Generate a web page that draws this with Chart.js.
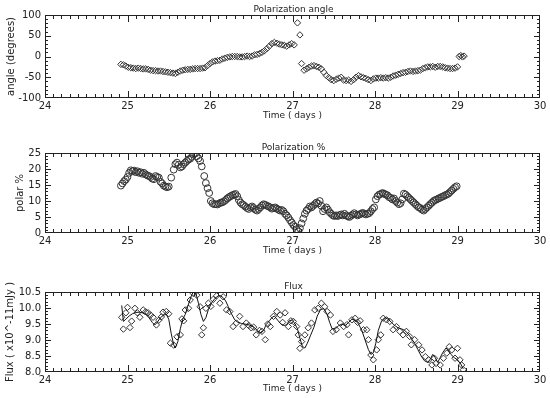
<!DOCTYPE html>
<html>
<head>
<meta charset="utf-8">
<script src="https://cdn.jsdelivr.net/npm/chart.js@4.4.1/dist/chart.umd.min.js"></script>
<style>
  body { margin: 0; background: #fff; }
  canvas { position: absolute; left: 0; }
</style>
</head>
<body>
<canvas id="angleChart" width="550" height="130" style="top:0px"></canvas>
<canvas id="polarChart" width="550" height="130" style="top:130px"></canvas>
<canvas id="fluxChart" width="550" height="138" style="top:260px"></canvas>
<script>
// Polarization angle (degrees) vs time (days)
const angleTime = [
  24.92, 24.95, 24.98, 25.01, 25.04, 25.07, 25.10, 25.13, 25.16, 25.19,
  25.22, 25.25, 25.28, 25.31, 25.34, 25.37, 25.40, 25.43, 25.46, 25.49,
  25.52, 25.55, 25.58, 25.61, 25.64, 25.67, 25.70, 25.73, 25.76, 25.79,
  25.82, 25.85, 25.88, 25.91, 25.94, 25.97, 26.00, 26.03, 26.06, 26.09,
  26.12, 26.15, 26.18, 26.21, 26.24, 26.27, 26.30, 26.33, 26.36, 26.39,
  26.42, 26.45, 26.48, 26.51, 26.54, 26.57, 26.60, 26.63, 26.66, 26.69,
  26.72, 26.75, 26.78, 26.81, 26.84, 26.87, 26.90, 26.93, 26.96, 26.99,
  27.02,
  27.06, 27.09,
  27.11, 27.14, 27.17, 27.20, 27.23, 27.26, 27.29, 27.32, 27.35, 27.38,
  27.41, 27.44, 27.47, 27.50, 27.53, 27.56, 27.59, 27.62, 27.65, 27.68,
  27.71, 27.74, 27.77, 27.80, 27.83, 27.86, 27.89, 27.92, 27.95, 27.98,
  28.01, 28.04, 28.07, 28.10, 28.13, 28.16, 28.19, 28.22, 28.25, 28.28,
  28.31, 28.34, 28.37, 28.40, 28.43, 28.46, 28.49, 28.52, 28.55, 28.58,
  28.61, 28.64, 28.67, 28.70, 28.73, 28.76, 28.79, 28.82, 28.85, 28.88,
  28.91, 28.94, 28.97, 29.00,
  29.02, 29.04, 29.06, 29.08
];
const angleValue = [
  -19, -20, -23, -26, -27, -28, -29, -28, -29, -30,
  -30, -31, -33, -34, -34, -35, -35, -36, -37, -38,
  -39, -40, -41, -38, -35, -33, -32, -31, -31, -30,
  -29, -29, -29, -28, -27, -22, -17, -13, -11, -10,
  -9, -6, -4, -2, -1, 0, 0, 0, -1, -1,
  0, 1, 0, 1, 4, 5, 7, 10, 14, 19,
  25, 31, 34, 32, 30, 28, 27, 25, 28, 31,
  28,
  81, 52,
  -17, -33, -30, -26, -23, -22, -24, -26, -30, -38,
  -46, -51, -56, -58, -55, -52, -50, -57, -58, -57,
  -60, -56, -50, -46, -49, -51, -53, -56, -58, -54,
  -52, -52, -51, -52, -51, -52, -50, -47, -45, -43,
  -41, -39, -38, -36, -35, -36, -35, -34, -33, -29,
  -27, -25, -25, -24, -26, -24, -24, -25, -27, -28,
  -29, -29, -28, -25,
  0, 2, -1, 1
];

// Polarization % vs time (days)
const polarTime = [
  24.92, 24.94, 24.96, 24.98, 25.00, 25.02, 25.04, 25.06, 25.08, 25.10,
  25.12, 25.14, 25.16, 25.18, 25.20, 25.22, 25.24, 25.26, 25.28, 25.30,
  25.32, 25.34, 25.36, 25.38, 25.40, 25.42, 25.44, 25.46, 25.48, 25.50,
  25.53, 25.56, 25.58, 25.60, 25.62, 25.64, 25.66, 25.68, 25.70, 25.72,
  25.74, 25.76, 25.78, 25.80, 25.82, 25.84, 25.86, 25.88, 25.90, 25.93,
  25.95, 25.97, 25.99, 26.01, 26.03, 26.05, 26.07, 26.09, 26.11, 26.13,
  26.15, 26.17, 26.19, 26.21, 26.23, 26.25, 26.27, 26.29, 26.31, 26.33,
  26.35, 26.37, 26.39, 26.41, 26.43, 26.45, 26.47, 26.49, 26.51, 26.53,
  26.55, 26.57, 26.59, 26.61, 26.63, 26.65, 26.67, 26.69, 26.71, 26.73,
  26.75, 26.77, 26.79, 26.81, 26.83, 26.85, 26.87, 26.89, 26.91, 26.93,
  26.95, 26.97, 26.99, 27.01, 27.03, 27.05, 27.07, 27.09, 27.11, 27.13,
  27.15, 27.17, 27.19, 27.21, 27.23, 27.25, 27.27, 27.29, 27.31, 27.33,
  27.35, 27.37, 27.39, 27.41, 27.43, 27.45, 27.47, 27.49, 27.51, 27.53,
  27.55, 27.57, 27.59, 27.61, 27.63, 27.65, 27.67, 27.69, 27.71, 27.73,
  27.75, 27.77, 27.79, 27.81, 27.83, 27.85, 27.87, 27.89, 27.91, 27.93,
  27.95, 27.97, 27.99, 28.01, 28.03, 28.05, 28.07, 28.09, 28.11, 28.13,
  28.15, 28.17, 28.19, 28.21, 28.23, 28.25, 28.27, 28.29, 28.31, 28.33,
  28.35, 28.37, 28.39, 28.41, 28.43, 28.45, 28.47, 28.49, 28.51, 28.53,
  28.55, 28.57, 28.59, 28.61, 28.63, 28.65, 28.67, 28.69, 28.71, 28.73,
  28.75, 28.77, 28.79, 28.81, 28.83, 28.85, 28.87, 28.89, 28.91, 28.93,
  28.95, 28.97, 28.99
];
const polarValue = [
  14.8, 15.5, 16.2, 16.7, 17.5, 18.8, 19.6, 19.3, 19.5, 19.0,
  19.3, 18.8, 19.0, 18.5, 18.8, 18.3, 18.0, 17.8, 17.5, 17.0,
  16.8, 17.8, 17.5, 17.3, 16.0, 15.5, 14.8, 14.5, 14.3, 14.5,
  17.3, 19.8, 21.5, 22.0, 21.3, 20.5, 20.8, 21.5, 22.0, 22.5,
  23.0, 23.2, 23.8, 24.5, 24.8, 24.0, 23.3, 22.5, 20.8, 17.8,
  15.6, 14.0, 12.5, 10.0, 9.3, 9.0, 9.0, 8.9, 9.2, 9.5,
  9.6, 9.9, 10.3, 10.8, 11.2, 11.5, 11.8, 12.0, 12.2, 11.5,
  10.3, 9.5, 9.0, 8.7, 8.2, 7.8, 7.5, 8.0, 8.3, 7.8,
  7.3, 7.0, 7.5, 8.0, 8.6, 9.0, 8.8, 8.5, 8.3, 8.0,
  7.6, 7.8, 8.0, 7.6, 7.3, 7.0, 7.2, 6.8, 6.0, 5.5,
  4.8, 4.0, 3.3, 2.5, 2.0, 1.2, 0.5, 1.5, 3.0, 4.5,
  6.0, 7.0, 7.5, 8.3, 8.0, 8.5, 9.0, 9.5, 9.2, 10.0,
  8.5, 6.8, 7.5, 8.0, 7.3, 6.5, 6.0, 5.5, 5.3, 5.5,
  5.3, 5.6, 5.8, 5.5, 6.0, 5.5, 5.2, 5.0, 5.4, 5.8,
  6.2, 5.8, 5.5, 5.8, 6.0, 6.3, 6.0, 5.8, 6.0, 6.2,
  6.8, 7.5, 8.0, 10.5, 11.5, 12.0, 12.2, 12.5, 12.3, 12.0,
  11.8, 11.2, 11.0, 10.5, 10.8, 10.0, 9.5, 9.0, 9.3, 10.5,
  12.3, 12.0, 11.5, 11.0, 10.5, 10.0, 9.5, 9.0, 8.5, 8.0,
  7.8, 7.3, 7.0, 7.5, 8.0, 8.5, 9.0, 9.5, 10.0, 10.3,
  10.5, 10.8, 11.0, 11.3, 11.5, 11.8, 12.0, 12.3, 12.8, 13.3,
  13.8, 14.3, 14.6
];

// Flux (x10^-11 mJy): measured points
const fluxTime = [
  24.93, 24.95, 24.98, 25.00, 25.03, 25.05, 25.09, 25.12, 25.15, 25.19,
  25.22, 25.25, 25.28, 25.31, 25.35, 25.38, 25.41, 25.43, 25.47, 25.50,
  25.52, 25.56, 25.60, 25.64, 25.66, 25.68, 25.70, 25.74, 25.76, 25.80,
  25.84, 25.88, 25.90, 25.92, 25.95, 25.98, 26.01, 26.04, 26.08, 26.12,
  26.16, 26.20, 26.24, 26.28, 26.32, 26.36, 26.40, 26.44, 26.47, 26.50,
  26.53, 26.56, 26.60, 26.63, 26.67, 26.70, 26.73, 26.77, 26.81, 26.85,
  26.88, 26.91, 26.95, 26.98, 27.01, 27.05, 27.07, 27.09, 27.11, 27.15,
  27.19, 27.23, 27.27, 27.31, 27.35, 27.39, 27.42, 27.46, 27.49, 27.53,
  27.58, 27.62, 27.66, 27.68, 27.72, 27.76, 27.79, 27.82, 27.86, 27.90,
  27.92, 27.95, 27.98, 28.02, 28.04, 28.07, 28.10, 28.14, 28.18, 28.22,
  28.26, 28.30, 28.34, 28.38, 28.42, 28.44, 28.48, 28.53, 28.57, 28.61,
  28.65, 28.69, 28.72, 28.74, 28.79, 28.83, 28.87, 28.90, 28.93, 28.97,
  29.00, 29.03, 29.05, 29.07
];
const fluxValue = [
  9.71, 9.34, 9.85, 10.02, 9.39, 9.59, 9.99, 9.85, 9.71, 9.94,
  9.88, 9.85, 9.78, 9.71, 9.47, 9.62, 9.72, 9.87, 9.89, 9.82,
  8.90, 8.84, 9.10, 9.16, 9.66, 9.60, 9.94, 9.99, 10.25, 10.45,
  10.40, 10.04, 9.16, 9.38, 9.99, 10.15, 10.05, 10.27, 10.38, 10.15,
  10.35, 9.94, 9.89, 9.42, 9.53, 9.74, 9.42, 9.53, 9.45, 9.38,
  9.40, 9.16, 9.30, 9.27, 9.01, 9.50, 9.42, 9.74, 9.89, 9.78,
  9.55, 9.85, 9.42, 9.60, 9.58, 9.42, 9.16, 8.74, 8.95, 9.16,
  9.38, 9.53, 9.94, 9.99, 10.15, 10.04, 9.89, 9.78, 9.27, 9.32,
  9.53, 9.42, 9.48, 9.16, 9.63, 9.68, 9.55, 9.60, 9.32, 9.32,
  9.01, 8.53, 8.38, 8.69, 9.01, 9.16, 9.68, 9.63, 9.58, 9.32,
  9.42, 9.27, 9.16, 9.27, 9.11, 8.85, 9.01, 8.85, 8.69, 8.48,
  8.38, 8.22, 8.43, 8.27, 8.22, 8.43, 8.59, 8.79, 8.69, 8.43,
  8.74, 8.38, 8.22, 8.07
];

// Flux: smooth curve
const fitTime = [
  24.93, 24.95, 24.98, 25.02, 25.06, 25.10, 25.14, 25.18, 25.22, 25.26,
  25.30, 25.33, 25.36, 25.40, 25.44, 25.47, 25.50, 25.53, 25.56, 25.58,
  25.61, 25.64, 25.67, 25.70, 25.73, 25.77, 25.80, 25.83, 25.86, 25.89,
  25.92, 25.95, 25.98, 26.02, 26.06, 26.10, 26.13, 26.16, 26.19, 26.22,
  26.26, 26.30, 26.34, 26.38, 26.42, 26.46, 26.50, 26.54, 26.58, 26.62,
  26.65, 26.68, 26.72, 26.75, 26.78, 26.82, 26.86, 26.90, 26.93, 26.96,
  26.99, 27.02, 27.06, 27.09, 27.12, 27.15, 27.18, 27.22, 27.26, 27.30,
  27.34, 27.38, 27.42, 27.45, 27.48, 27.52, 27.56, 27.60, 27.64, 27.68,
  27.72, 27.76, 27.80, 27.84, 27.88, 27.92, 27.95, 27.98, 28.01, 28.04,
  28.08, 28.12, 28.16, 28.20, 28.24, 28.28, 28.32, 28.36, 28.40, 28.44,
  28.48, 28.52, 28.56, 28.60, 28.64, 28.67, 28.70, 28.73, 28.76, 28.79,
  28.82, 28.86, 28.89, 28.92, 28.96, 29.00, 29.04, 29.07
];
const fitValue = [
  10.08, 9.58, 9.65, 9.75, 9.82, 9.86, 9.87, 9.85, 9.80, 9.70,
  9.55, 9.47, 9.55, 9.70, 9.78, 9.80, 9.65, 9.20, 8.85, 8.75,
  8.95, 9.35, 9.65, 9.80, 10.05, 10.35, 10.52, 10.45, 10.15, 9.80,
  9.58, 9.70, 9.95, 10.16, 10.30, 10.38, 10.38, 10.32, 10.22, 10.05,
  9.82, 9.63, 9.55, 9.52, 9.50, 9.48, 9.45, 9.38, 9.28, 9.22,
  9.30, 9.48, 9.60, 9.70, 9.75, 9.62, 9.50, 9.45, 9.48, 9.60,
  9.62, 9.55, 9.35, 9.05, 8.80, 8.75, 8.90, 9.15, 9.40, 9.75,
  9.95, 9.98, 9.80, 9.55, 9.35, 9.35, 9.45, 9.50, 9.45, 9.55,
  9.65, 9.62, 9.50, 9.30, 9.00, 8.70, 8.55, 8.60, 8.90, 9.30,
  9.60, 9.70, 9.65, 9.55, 9.45, 9.38, 9.35, 9.30, 9.20, 9.05,
  8.90, 8.70, 8.50, 8.35, 8.30, 8.40, 8.55, 8.45, 8.30, 8.45,
  8.60, 8.75, 8.68, 8.55, 8.45, 8.38, 8.25, 8.10
];

const FONT = 'DejaVu Sans';
const INK = '#222';

function toPoints(xs, ys) {
  return xs.map((x, i) => ({ x: x, y: ys[i] }));
}

// frame on all four sides with inward major/minor ticks, plus the panel title
const frameTicks = {
  id: 'frameTicks',
  afterDraw(chart, args, opts) {
    const { ctx, chartArea: a, scales: { x, y } } = chart;
    ctx.save();
    ctx.strokeStyle = INK;
    ctx.lineWidth = 1;
    ctx.strokeRect(a.left + 0.5, a.top + 0.5, a.right - a.left - 1, a.bottom - a.top - 1);

    ctx.beginPath();
    const nx = Math.round((x.max - x.min) / opts.xMinor);
    const xEvery = Math.round(opts.xMajor / opts.xMinor);
    for (let i = 1; i < nx; i++) {
      const px = Math.round(x.getPixelForValue(x.min + i * opts.xMinor)) + 0.5;
      const len = i % xEvery === 0 ? 7 : 4;
      ctx.moveTo(px, a.bottom); ctx.lineTo(px, a.bottom - len);
      ctx.moveTo(px, a.top); ctx.lineTo(px, a.top + len);
    }
    const ny = Math.round((y.max - y.min) / opts.yMinor);
    const yEvery = Math.round(opts.yMajor / opts.yMinor);
    for (let i = 1; i < ny; i++) {
      const py = Math.round(y.getPixelForValue(y.min + i * opts.yMinor)) + 0.5;
      const len = i % yEvery === 0 ? 6 : 3;
      ctx.moveTo(a.left, py); ctx.lineTo(a.left + len, py);
      ctx.moveTo(a.right, py); ctx.lineTo(a.right - len, py);
    }
    ctx.stroke();

    ctx.fillStyle = INK;
    ctx.font = '9px "' + FONT + '"';
    ctx.textAlign = 'center';
    ctx.textBaseline = 'alphabetic';
    ctx.fillText(opts.title, (a.left + a.right) / 2 + 1, a.top - 3);
    ctx.restore();
  }
};

function makeOptions(cfg) {
  return {
    responsive: false,
    animation: false,
    devicePixelRatio: 1,
    layout: { padding: { left: 0, right: 10, top: cfg.top, bottom: 0 } },
    plugins: {
      legend: { display: false },
      tooltip: { enabled: false },
      frameTicks: { title: cfg.title, xMinor: 0.1, xMajor: 1, yMinor: cfg.yMinor, yMajor: cfg.yStep }
    },
    scales: {
      x: {
        type: 'linear',
        min: 24, max: 30,
        grid: { display: false, drawTicks: false },
        border: { display: false },
        ticks: {
          stepSize: 1, autoSkip: false, maxRotation: 0, padding: 2,
          color: INK, font: { family: FONT, size: 10 },
          callback: v => String(v)
        },
        title: {
          display: true, text: 'Time ( days )', color: INK,
          font: { family: FONT, size: 9 },
          padding: { top: 0, bottom: cfg.xTitlePad }
        },
        afterFit: s => { s.height = cfg.xHeight; }
      },
      y: {
        min: cfg.yMin, max: cfg.yMax,
        grid: { display: false, drawTicks: false },
        border: { display: false },
        ticks: {
          stepSize: cfg.yStep, autoSkip: false, padding: 4,
          color: INK, font: { family: FONT, size: 10 },
          callback: v => cfg.yDecimals ? v.toFixed(cfg.yDecimals) : String(v)
        },
        title: {
          display: true, text: cfg.yTitle, color: INK,
          font: { family: FONT, size: 10 },
          padding: { top: cfg.yTitlePad, bottom: 0 }
        },
        afterFit: s => { s.width = 45; }
      }
    }
  };
}

const diamond = {
  showLine: false, pointStyle: 'rectRot', pointRadius: 3.2,
  pointBorderColor: '#333', pointBackgroundColor: 'rgba(255,255,255,0)', pointBorderWidth: 1
};

new Chart(document.getElementById('angleChart'), {
  type: 'scatter',
  data: {
    datasets: [Object.assign({ data: toPoints(angleTime, angleValue) }, diamond)]
  },
  options: makeOptions({
    title: 'Polarization angle', yTitle: 'angle (degrees)',
    yMin: -100, yMax: 100, yStep: 50, yMinor: 10,
    top: 15, xHeight: 32, xTitlePad: 9, yTitlePad: 5
  }),
  plugins: [frameTicks]
});

new Chart(document.getElementById('polarChart'), {
  type: 'scatter',
  data: {
    datasets: [{
      data: toPoints(polarTime, polarValue),
      showLine: false, pointStyle: 'circle', pointRadius: 3.4,
      pointBorderColor: '#333', pointBackgroundColor: 'rgba(255,255,255,0)', pointBorderWidth: 1
    }]
  },
  options: makeOptions({
    title: 'Polarization %', yTitle: 'polar %',
    yMin: 0, yMax: 25, yStep: 5, yMinor: 1,
    top: 23, xHeight: 27, xTitlePad: 4, yTitlePad: 14
  }),
  plugins: [frameTicks]
});

new Chart(document.getElementById('fluxChart'), {
  type: 'scatter',
  data: {
    datasets: [
      {
        data: toPoints(fitTime, fitValue),
        showLine: true, pointRadius: 0, borderColor: '#111', borderWidth: 1, tension: 0
      },
      Object.assign({ data: toPoints(fluxTime, fluxValue) }, diamond)
    ]
  },
  options: makeOptions({
    title: 'Flux', yTitle: 'Flux ( x10^-11mJy )',
    yMin: 8.0, yMax: 10.5, yStep: 0.5, yMinor: 0.1, yDecimals: 1,
    top: 32, xHeight: 26, xTitlePad: 4, yTitlePad: 4
  }),
  plugins: [frameTicks]
});
</script>
</body>
</html>
